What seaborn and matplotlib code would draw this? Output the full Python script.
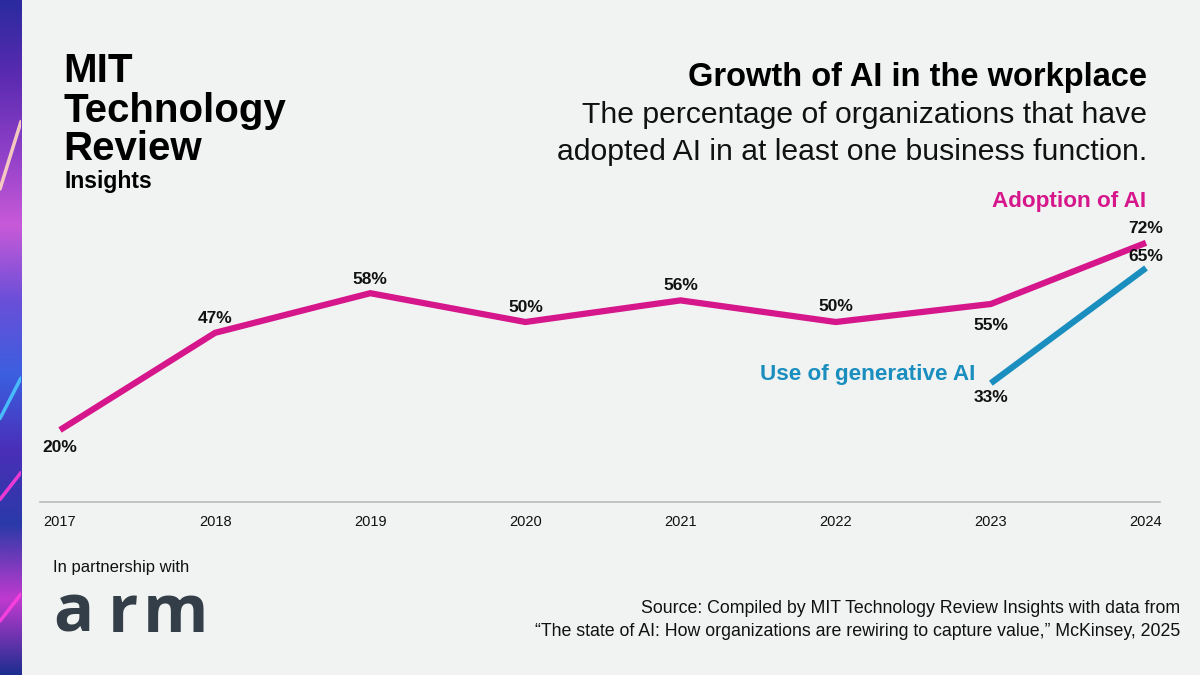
import numpy as np
import pandas as pd
import seaborn as sns
import matplotlib.pyplot as plt
from matplotlib.colors import LinearSegmentedColormap

# Data
years = [2017, 2018, 2019, 2020, 2021, 2022, 2023, 2024]
adoption = [20, 47, 58, 50, 56, 50, 55, 72]
genai_years = [2023, 2024]
genai = [33, 65]

# label offsets in points (negative = below the point)
adoption_off = [-7, 5, 4.5, 5, 5, 5.5, -10, 5]
genai_off = [-5, 3]

PINK = '#D6168B'
BLUE = '#1A8FBF'
BG = '#F1F2F2'

sns.set_theme(style='white')
plt.rcParams['font.family'] = ['Liberation Sans', 'DejaVu Sans']

fig = plt.figure(figsize=(12, 6.75), dpi=100, facecolor=BG)

# decorative strip on the left
strip = fig.add_axes([0, 0, 21 / 1200, 1])
grad = np.linspace(0, 1, 256).reshape(-1, 1)
cmap = LinearSegmentedColormap.from_list(
    'strip', ['#2B2A9E', '#5A2BB0', '#8E3FC8', '#C85AD8', '#6A4FD8', '#3B5FE0', '#4A2FB8', '#2A3AA8', '#C03ACF', '#1E2E90'])
strip.imshow(grad, aspect='auto', cmap=cmap, extent=[0, 1, 0, 1])
for y0, y1, c in [(0.72, 0.82, '#FFD8C0'), (0.26, 0.30, '#FF3AD8'), (0.38, 0.44, '#4AC8FF'), (0.08, 0.12, '#FF40E0')]:
    strip.plot([0, 1], [y0, y1], color=c, lw=2.5, alpha=0.9)
strip.set_xlim(0, 1)
strip.set_ylim(0, 1)
strip.axis('off')

# main chart
ax = fig.add_axes([40 / 1200, 1 - 502 / 675, 1120 / 1200, 360 / 675])
ax.set_facecolor(BG)

df = pd.DataFrame({'year': years, 'value': adoption})
dg = pd.DataFrame({'year': genai_years, 'value': genai})
sns.lineplot(data=df, x='year', y='value', color=PINK, lw=4.5, ax=ax,
             solid_capstyle='butt', solid_joinstyle='miter')
sns.lineplot(data=dg, x='year', y='value', color=BLUE, lw=4.5, ax=ax,
             solid_capstyle='butt')

ax.set_xlim(2017 - 20 / 155.1, 2024 + 14 / 155.1)
ax.set_ylim(0, 100)

def label(xs, ys, offs):
    for x, y, o in zip(xs, ys, offs):
        ax.annotate(f'{y}%', (x, y), xytext=(0, o), textcoords='offset points',
                    ha='center', va='bottom' if o > 0 else 'top',
                    fontsize=12.5, fontweight='bold', color='#111111')

label(years, adoption, adoption_off)
label(genai_years, genai, genai_off)

ax.text(2024, 83.6, 'Adoption of AI', color=PINK, fontsize=16.2, fontweight='bold',
        ha='right', va='center')
ax.text(2022.9, 35.5, 'Use of generative AI', color=BLUE, fontsize=16.2, fontweight='bold',
        ha='right', va='center')

for s in ['top', 'right', 'left']:
    ax.spines[s].set_visible(False)
ax.spines['bottom'].set_color('#BBBBBB')
ax.spines['bottom'].set_linewidth(1.2)
ax.set_yticks([])
ax.set_xticks(years)
ax.set_xticklabels([str(y) for y in years], fontsize=10.5, color='#111111')
ax.tick_params(axis='x', length=0, pad=9)
ax.set_xlabel('')
ax.set_ylabel('')

# logo
for txt, yb in [('MIT', 82), ('Technology', 122), ('Review', 160)]:
    fig.text(63 / 1200, 1 - yb / 675, txt, fontsize=29, fontweight='bold',
             color='#000000', va='baseline', ha='left')
fig.text(64 / 1200, 1 - 188 / 675, 'Insights', fontsize=16.5, fontweight='bold',
         color='#000000', va='baseline', ha='left')

# title block
fig.text(1147 / 1200, 1 - 86 / 675, 'Growth of AI in the workplace', fontsize=23.5,
         fontweight='bold', ha='right', va='baseline', color='#000000')
fig.text(1147 / 1200, 1 - 123 / 675, 'The percentage of organizations that have',
         fontsize=21.7, ha='right', va='baseline', color='#111111')
fig.text(1147 / 1200, 1 - 160 / 675, 'adopted AI in at least one business function.',
         fontsize=21.7, ha='right', va='baseline', color='#111111')

# partnership
fig.text(53 / 1200, 1 - 572 / 675, 'In partnership with', fontsize=12,
         ha='left', va='baseline', color='#111111')
for ch, xl in [('a', 53), ('r', 108), ('m', 143)]:
    fig.text(xl / 1200, 1 - 632 / 675, ch, fontsize=48, fontweight='bold',
             family=['Open Sans', 'DejaVu Sans'], ha='left', va='baseline', color='#333E48')

# source
fig.text(1180 / 1200, 1 - 613 / 675,
         'Source: Compiled by MIT Technology Review Insights with data from',
         fontsize=12.8, ha='right', va='baseline', color='#111111')
fig.text(1180 / 1200, 1 - 636 / 675,
         '\u201cThe state of AI: How organizations are rewiring to capture value,\u201d McKinsey, 2025',
         fontsize=12.8, ha='right', va='baseline', color='#111111')

fig.savefig('out.png', dpi=100, facecolor=BG)
